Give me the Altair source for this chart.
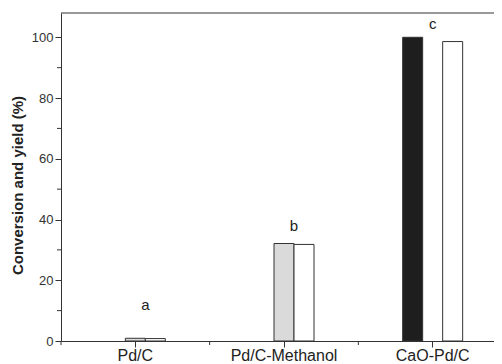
import altair as alt
import pandas as pd

# ---- data ----
categories = ["Pd/C", "Pd/C-Methanol", "CaO-Pd/C"]
series_names = ["CaO-Pd/C conversion", "Conversion", "Yield"]
conv_black = [None, None, 100.0]
conv_gray = [0.9, 32.1, None]
yield_vals = [0.8, 31.8, 98.6]
letters = ["a", "b", "c"]
letter_y = [11.8, 37.8, 104.3]
letter_centered = [False, False, True]
y_major = [0, 20, 40, 60, 80, 100]
y_minor = [10, 30, 50, 70, 90]
series_colors = ["#1e1e1e", "#dadada", "#ffffff"]

rows = []
for i, c in enumerate(categories):
    for s, vals in zip(series_names, [conv_black, conv_gray, yield_vals]):
        if vals[i] is not None:
            rows.append({"cat": c, "series": s, "value": vals[i]})
bars_df = pd.DataFrame(rows)
letters_df = pd.DataFrame({"cat": categories, "letter": letters, "y": letter_y,
                           "centered": letter_centered})
minor_y_df = pd.DataFrame({"v": y_minor})
minor_x_df = pd.DataFrame({"cat": categories})
one_df = pd.DataFrame({"a": [0]})

FONT = "Liberation Sans"
AX = "#333333"
W_RANGE = 446
W = 433
H = 328
BAND = W_RANGE / 3
SLOT = 20

x_scale = alt.Scale(type="band", domain=categories, range=[0, W_RANGE],
                    paddingInner=0, paddingOuter=0)
y_scale = alt.Scale(domain=[0, 108], nice=False)

bars = alt.Chart(bars_df).mark_bar(stroke=AX, strokeWidth=1).encode(
    x=alt.X("cat:N", scale=x_scale, sort=categories,
            axis=alt.Axis(title=None, labelFontSize=16, labelFont=FONT, labelColor="#222222",
                          labelAngle=0, labelPadding=0, tickSize=6, tickColor=AX,
                          domainColor=AX, grid=False)),
    xOffset=alt.XOffset("series:N", scale=alt.Scale(
        domain=series_names, paddingInner=0, paddingOuter=0,
        range=[BAND / 2 - 1.5 * SLOT, BAND / 2 + 1.5 * SLOT])),
    y=alt.Y("value:Q", scale=y_scale,
            axis=alt.Axis(values=y_major, tickSize=6, tickColor=AX, domainColor=AX,
                          labelFontSize=13, labelFont=FONT, labelColor="#333333",
                          labelPadding=2, grid=False,
                          title="Conversion and yield (%)", titleFont=FONT,
                          titleFontSize=15, titleFontWeight="bold", titleColor="#222222",
                          titleAngle=-90, titleX=-44, titleY=172,
                          titleAlign="center", titleBaseline="middle")),
    color=alt.Color("series:N", scale=alt.Scale(domain=series_names, range=series_colors),
                    legend=None),
)

minor_y = alt.Chart(minor_y_df).mark_rule(color=AX, strokeWidth=1).encode(
    y=alt.Y("v:Q", scale=y_scale), x=alt.value(-4), x2=alt.value(0)
)
minor_x = alt.Chart(minor_x_df).mark_rule(color=AX, strokeWidth=1).encode(
    x=alt.X("cat:N", scale=x_scale, bandPosition=0), y=alt.value(H), y2=alt.value(H + 4)
)
top_border = alt.Chart(one_df).mark_rule(color=AX, strokeWidth=1).encode(
    x=alt.value(0), x2=alt.value(W_RANGE), y=alt.value(0)
)

text_ab = alt.Chart(letters_df).transform_filter("!datum.centered").mark_text(
    fontSize=15, font=FONT, color="#222222", baseline="middle"
).encode(
    x=alt.X("cat:N", scale=x_scale, bandPosition=0.5 + (SLOT / 2) / BAND),
    y=alt.Y("y:Q", scale=y_scale), text="letter:N"
)
text_c = alt.Chart(letters_df).transform_filter("datum.centered").mark_text(
    fontSize=15, font=FONT, color="#222222", baseline="middle"
).encode(
    x=alt.X("cat:N", scale=x_scale), y=alt.Y("y:Q", scale=y_scale), text="letter:N"
)

chart = alt.layer(bars, minor_y, minor_x, top_border, text_ab, text_c).properties(
    width=W, height=H, autosize="none",
    padding={"left": 53, "top": 5, "right": 0, "bottom": 26},
).configure_view(stroke=None)

chart.save("out.html", embed_options={"renderer": "svg", "actions": False})
